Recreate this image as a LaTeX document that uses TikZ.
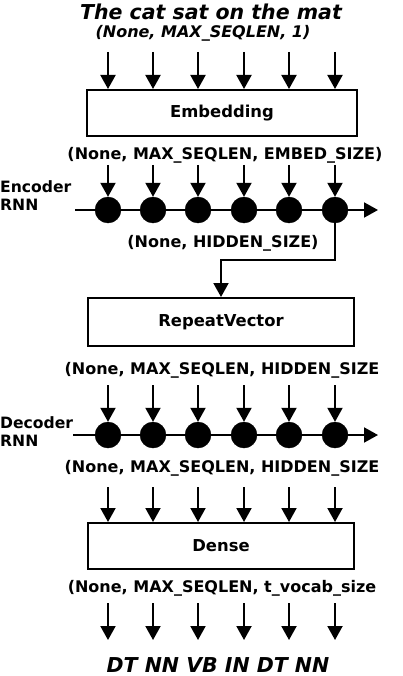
\documentclass[tikz,border=0pt]{standalone}
\usepackage{fontspec}
\setmainfont{DejaVu Sans}
\usetikzlibrary{positioning, arrows.meta, calc}

\begin{document}
\begin{tikzpicture}[x=1pt, y=-1pt,
                title/.style={font=\fontsize{20.5}{23}\selectfont\bfseries\itshape, inner sep=0pt},
                shapelabel/.style={font=\fontsize{16}{18}\selectfont\bfseries, inner sep=0pt},
                inlabel/.style={font=\fontsize{16}{18}\selectfont\bfseries\itshape, inner sep=0pt},
                rnnlabel/.style={font=\fontsize{15.6}{18}\selectfont\bfseries, align=left, inner sep=0pt, anchor=west},
                layer/.style={draw=black, line width=2pt, rectangle, minimum width=266pt, minimum height=46pt, font=\fontsize{16.4}{18}\selectfont\bfseries},
                cell/.style={draw=black, fill=black, circle, minimum size=26pt, inner sep=0pt},
                edge/.style={line width=2pt},
                arrow/.style={line width=2pt, -{Triangle[length=14pt, width=15pt]}}
            ]
            \useasboundingbox (0,0) rectangle (403,676);

            % Knoten
            \node[title] (src) at (211,12) {The cat sat on the mat};
            \node[inlabel] (inshape) at (203,33) {(None, MAX\_SEQLEN, 1)};
            \node[layer, minimum width=270pt] (emb) at (222,113) {Embedding};
            \node[shapelabel] (embshape) at (225,155) {(None, MAX\_SEQLEN, EMBED\_SIZE)};
            \node[rnnlabel] (enclabel) at (0,196) {Encoder\\RNN};
            \node[shapelabel] (hidshape) at (223,243) {(None, HIDDEN\_SIZE)};
            \node[layer, minimum height=48pt] (rep) at (221,322) {RepeatVector};
            \node[shapelabel] (repshape) at (222,370) {(None, MAX\_SEQLEN, HIDDEN\_SIZE};
            \node[rnnlabel] (declabel) at (0,432) {Decoder\\RNN};
            \node[shapelabel] (decshape) at (222,468) {(None, MAX\_SEQLEN, HIDDEN\_SIZE};
            \node[layer] (dense) at (221,546) {Dense};
            \node[shapelabel] (outshape) at (222,588) {(None, MAX\_SEQLEN, t\_vocab\_size};
            \node[title] (tags) at (218,665) {DT NN VB IN DT NN};

            \foreach \i/\x in {1/108, 2/153, 3/198, 4/244, 5/289, 6/335} {
                \node[cell] (enc\i) at (\x,210) {};
                \node[cell] (dec\i) at (\x,435) {};
                \coordinate (in\i) at (\x,52);
                \coordinate (ein\i) at (\x,165);
                \coordinate (din\i) at (\x,385);
                \coordinate (dout\i) at (\x,487);
                \coordinate (out\i) at (\x,603);
                \coordinate (tag\i) at (\x,640);
            }
            \coordinate (encL) at (75,210);
            \coordinate (encR) at (378,210);
            \coordinate (decL) at (73,435);
            \coordinate (decR) at (378,435);
            \coordinate (bend) at (221,260);

            % Kanten zwischen Knoten
            \draw[arrow] (encL) -- (encR);
            \draw[arrow] (decL) -- (decR);
            \foreach \i in {1,...,6} {
                \draw[arrow] (in\i) -- (in\i |- emb.north);
                \draw[arrow] (ein\i) -- (enc\i.north);
                \draw[arrow] (din\i) -- (dec\i.north);
                \draw[arrow] (dout\i) -- (dout\i |- dense.north);
                \draw[arrow] (out\i) -- (tag\i);
            }
            \draw[arrow] (enc6.south) |- (bend) -- (rep.north);

        \end{tikzpicture}
\end{document}
